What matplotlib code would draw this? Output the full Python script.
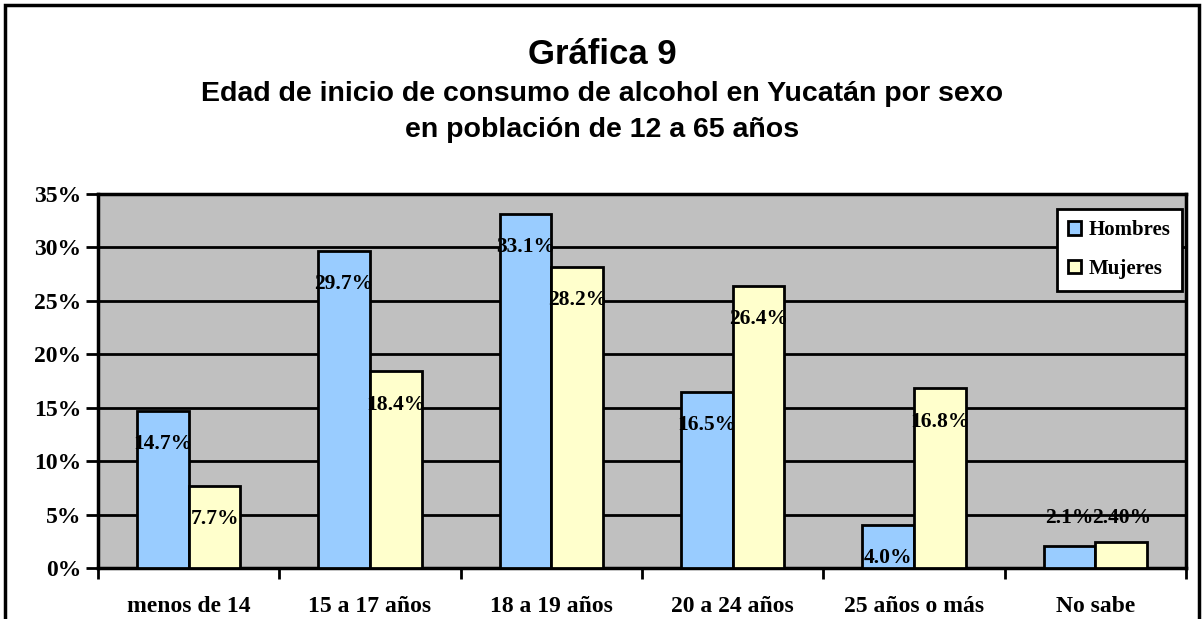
import numpy as np
import matplotlib
matplotlib.use("Agg")
from matplotlib import pyplot as plt
from matplotlib.patches import Rectangle

# data
categorias = ["menos de 14", "15 a 17 años", "18 a 19 años", "20 a 24 años", "25 años o más", "No sabe"]
hombres = [14.7, 29.7, 33.1, 16.5, 4.0, 2.1]
mujeres = [7.7, 18.4, 28.2, 26.4, 16.8, 2.4]
etiq_hombres = ["14.7%", "29.7%", "33.1%", "16.5%", "4.0%", "2.1%"]
etiq_mujeres = ["7.7%", "18.4%", "28.2%", "26.4%", "16.8%", "2.40%"]

serif = "Liberation Serif"
fig = plt.figure(figsize=(12.04, 6.19), dpi=100)
ax = fig.add_axes([98 / 1204, 1 - 568 / 619, (1186 - 98) / 1204, (568 - 194) / 619])

x = np.arange(len(categorias))
w = 1 / 3.5
ax.bar(x - w / 2, hombres, w, color="#99CCFF", edgecolor="black", linewidth=2, label="Hombres", zorder=3)
ax.bar(x + w / 2, mujeres, w, color="#FFFFCC", edgecolor="black", linewidth=2, label="Mujeres", zorder=3)

# data labels sit inside the bar top, except the tiny "No sabe" bars
for i in range(len(categorias)):
    for dx, v, t in ((-w / 2, hombres[i], etiq_hombres[i]), (w / 2, mujeres[i], etiq_mujeres[i])):
        y = v - 3.1 if v > 3 else 4.7
        ax.text(x[i] + dx, y, t, ha="center", va="center", fontsize=15.5, fontweight="bold",
                family=serif, zorder=4)

ax.set_xlim(-0.5, len(categorias) - 0.5)
ax.set_ylim(0, 35)
ax.set_facecolor("#C0C0C0")
ax.set_yticks(np.arange(0, 36, 5))
ax.set_yticklabels([f"{v}%" for v in range(0, 36, 5)], fontsize=17, fontweight="bold", family=serif)
ax.set_xticks(x)
ax.set_xticklabels(categorias, fontsize=17, fontweight="bold", family=serif)
ax.set_xticks(np.arange(-0.5, len(categorias), 1), minor=True)
ax.tick_params(axis="x", which="major", length=0, pad=20)
ax.tick_params(axis="x", which="minor", length=8, width=2, direction="out")
ax.tick_params(axis="y", length=9, width=2, pad=3)
ax.grid(axis="y", color="black", linewidth=2, zorder=1)
for s in ax.spines.values():
    s.set_linewidth(2.5)

leg = ax.legend(loc="upper right", bbox_to_anchor=(0.9965, 0.96), prop={"family": serif, "weight": "bold", "size": 15},
                frameon=True, fancybox=False, edgecolor="black", framealpha=1,
                handlelength=0.6, handleheight=0.6, labelspacing=0.9, handletextpad=0.4, borderpad=0.55,
                borderaxespad=0)
leg.get_frame().set_linewidth(2)

fig.text(0.5, 1 - 64 / 619, "Gráfica 9", ha="center", va="baseline", fontsize=25, fontweight="bold",
         family="Liberation Sans")
fig.text(0.5, 1 - 101 / 619, "Edad de inicio de consumo de alcohol en Yucatán por sexo", ha="center",
         va="baseline", fontsize=20.5, fontweight="bold", family="Liberation Sans")
fig.text(0.5, 1 - 137 / 619, "en población de 12 a 65 años", ha="center", va="baseline",
         fontsize=20.5, fontweight="bold", family="Liberation Sans")

fig.patches.append(Rectangle((5 / 1204, -0.05), 1194 / 1204, 1.05 - 5 / 619, transform=fig.transFigure,
                             fill=False, edgecolor="black", linewidth=2.5))

fig.savefig("out.png", dpi=100)
